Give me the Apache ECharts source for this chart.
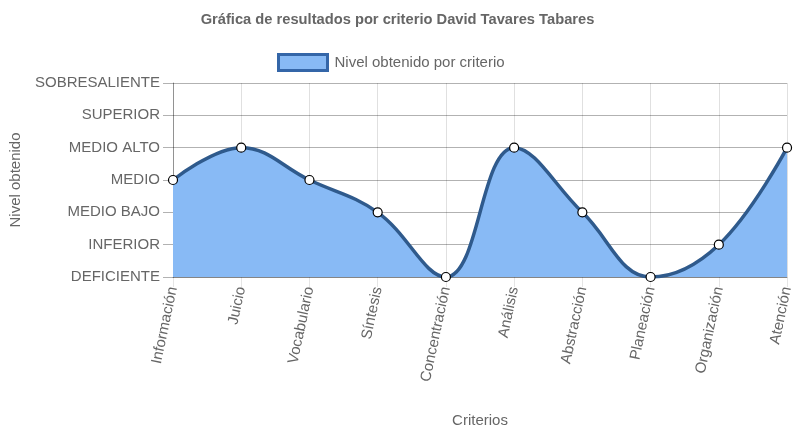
<!DOCTYPE html>
<html>
<head>
<meta charset="utf-8">
<script src="https://cdn.jsdelivr.net/npm/echarts@6/dist/echarts.min.js"></script>
<style>
html,body{margin:0;padding:0;background:#fff;}
#c{width:795px;height:435px;}
</style>
</head>
<body>
<div id="c"></div>
<script>
var titleText = 'Gráfica de resultados por criterio David Tavares Tabares';
var seriesName = 'Nivel obtenido por criterio';
var criterios = ['Información','Juicio','Vocabulario','Síntesis','Concentración','Análisis','Abstracción','Planeación','Organización','Atención'];
var niveles = ['DEFICIENTE','INFERIOR','MEDIO BAJO','MEDIO','MEDIO ALTO','SUPERIOR','SOBRESALIENTE'];
var valores = [3,4,3,2,0,4,2,0,1,4];

var FONT = '"Liberation Sans", Arial, Helvetica, sans-serif';
var chart = echarts.init(document.getElementById('c'), null, {renderer:'canvas'});
chart.setOption({
  animation:false,
  backgroundColor:'#fff',
  textStyle:{fontFamily:FONT},
  title:{
    text:titleText, left:'center', top:7,
    textStyle:{fontFamily:FONT,fontSize:14.7,fontWeight:'bold',color:'#666'}
  },
  legend:{
    left:272, top:48,
    itemWidth:49, itemHeight:16, itemGap:8,
    textStyle:{fontFamily:FONT,fontSize:15,color:'#666',padding:[0,0,0,2]},
    data:[{name:seriesName, icon:'rect', itemStyle:{color:'#88baf5', borderColor:'#3466a8', borderWidth:3}}]
  },
  grid:{left:170, right:0, top:83, bottom:158, containLabel:false},
  xAxis:{
    type:'category', data:criterios, boundaryGap:false,
    name:'Criterios', nameLocation:'middle', nameGap:136,
    nameTextStyle:{fontFamily:FONT,fontSize:15,color:'#666'},
    axisLine:{show:true,lineStyle:{color:'rgba(0,0,0,0.25)',width:1}},
    axisTick:{show:true,length:10,alignWithLabel:true,lineStyle:{color:'rgba(0,0,0,0.1)'}},
    axisLabel:{rotate:78, margin:10, fontFamily:FONT, fontSize:15, color:'#666', interval:0},
    splitLine:{show:true,lineStyle:{color:'rgba(0,0,0,0.12)',width:1}}
  },
  yAxis:{
    type:'value', min:0, max:6, interval:1,
    name:'Nivel obtenido', nameLocation:'middle', nameGap:150, nameRotate:90,
    nameTextStyle:{fontFamily:FONT,fontSize:15,color:'#666'},
    axisLine:{show:true,lineStyle:{color:'rgba(0,0,0,0.35)',width:1}},
    axisTick:{show:true,length:10,lineStyle:{color:'rgba(0,0,0,0.3)'}},
    axisLabel:{margin:13, fontFamily:FONT, fontSize:15, color:'#666',
      formatter:function(v){return niveles[v];}},
    splitLine:{show:true,lineStyle:{color:'rgba(0,0,0,0.3)',width:1}}
  },
  series:[{
    name:seriesName, type:'line', data:valores, smooth:0.4,
    symbol:'circle', symbolSize:9,
    itemStyle:{color:'#fff', borderColor:'#000', borderWidth:1.2},
    lineStyle:{color:'#2f5a8c', width:3.5},
    areaStyle:{color:'#88baf5', opacity:1, origin:'start'},
    z:3
  }]
});
</script>
</body>
</html>
